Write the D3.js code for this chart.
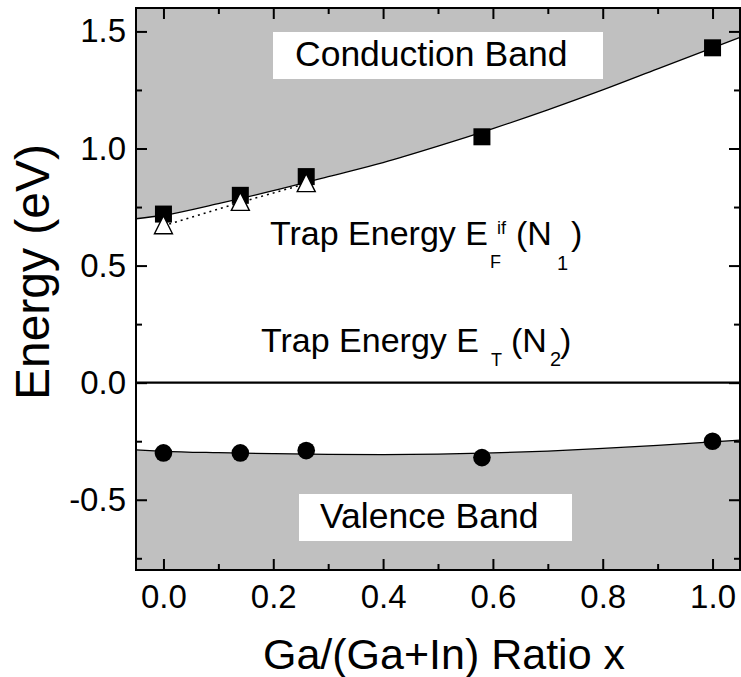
<!DOCTYPE html>
<html>
<head>
<meta charset="utf-8">
<script src="https://cdn.jsdelivr.net/npm/d3@7"></script>
<style>
  body { margin: 0; background: #fff; }
  svg { display: block; font-family: "Liberation Sans", Arial, sans-serif; }
</style>
</head>
<body>
<svg id="chart" width="741" height="677"></svg>
<script>
// measured points
var ratioX = [0, 0.14, 0.26, 0.58, 1.0];
var cbEnergy = [0.72, 0.80, 0.88, 1.05, 1.43];
var vbEnergy = [-0.30, -0.30, -0.29, -0.32, -0.25];
var trapX = [0, 0.14, 0.26];
var trapEnergy = [0.67, 0.77, 0.85];

// fitted band edges
var cbFitX = [-0.05, 0, 0.1, 0.2, 0.3, 0.4, 0.5, 0.6, 0.7, 0.8, 0.9, 1.0, 1.05];
var cbFitY = [0.70, 0.715, 0.765, 0.82, 0.88, 0.94, 1.01, 1.085, 1.165, 1.25, 1.34, 1.43, 1.475];
var vbFitX = [-0.05, 0, 0.1, 0.2, 0.3, 0.4, 0.5, 0.6, 0.7, 0.8, 0.9, 1.0, 1.05];
var vbFitY = [-0.287, -0.293, -0.299, -0.303, -0.306, -0.307, -0.305, -0.300, -0.292, -0.281, -0.268, -0.253, -0.245];

var xTicks = [0, 0.2, 0.4, 0.6, 0.8, 1.0];
var xMinor = [0.1, 0.3, 0.5, 0.7, 0.9];
var yTicks = [-0.5, 0, 0.5, 1.0, 1.5];
var yMinor = [-0.75, -0.25, 0.25, 0.75, 1.25];

// plot frame (note: "top" is taken by window.top)
var padL = 136, padR = 740, padT = 8, padB = 570;
var grey = "#c0c0c0";

var svg = d3.select("#chart");
var x = d3.scaleLinear().domain([-0.05, 1.05]).range([padL, padR]);
var y = d3.scaleLinear().domain([-0.8, 1.6]).range([padB, padT]);

var cbFit = cbFitX.map(function(d, i){ return [d, cbFitY[i]]; });
var vbFit = vbFitX.map(function(d, i){ return [d, vbFitY[i]]; });

//shaded bands
svg.append("path")
  .datum(cbFit)
  .attr("fill", grey)
  .attr("d", d3.area().x(function(d){return x(d[0]);}).y0(y(1.6)).y1(function(d){return y(d[1]);}).curve(d3.curveMonotoneX));
svg.append("path")
  .datum(vbFit)
  .attr("fill", grey)
  .attr("d", d3.area().x(function(d){return x(d[0]);}).y0(y(-0.8)).y1(function(d){return y(d[1]);}).curve(d3.curveMonotoneX));

var fitLine = d3.line().x(function(d){return x(d[0]);}).y(function(d){return y(d[1]);}).curve(d3.curveMonotoneX);
svg.append("path").datum(cbFit).attr("fill", "none").attr("stroke", "#000").attr("stroke-width", 1.3).attr("d", fitLine);
svg.append("path").datum(vbFit).attr("fill", "none").attr("stroke", "#000").attr("stroke-width", 1.3).attr("d", fitLine);

// zero line
svg.append("line")
  .attr("x1", x(-0.05)).attr("x2", x(1.05))
  .attr("y1", y(0)).attr("y2", y(0))
  .attr("stroke", "#000").attr("stroke-width", 2.2);

// dotted trap line
svg.append("path")
  .datum(trapX.map(function(d, i){ return [d, trapEnergy[i]]; }))
  .attr("fill", "none").attr("stroke", "#000").attr("stroke-width", 1.5)
  .attr("stroke-dasharray", "2,4")
  .attr("d", d3.line().x(function(d){return x(d[0]);}).y(function(d){return y(d[1]);}));

// markers
svg.selectAll(".sq").data(ratioX).enter().append("rect")
  .attr("x", function(d){ return x(d) - 8.5; })
  .attr("y", function(d, i){ return y(cbEnergy[i]) - 8.5; })
  .attr("width", 17).attr("height", 17).attr("fill", "#000");

svg.selectAll(".dot").data(ratioX).enter().append("circle")
  .attr("cx", function(d){ return x(d); })
  .attr("cy", function(d, i){ return y(vbEnergy[i]); })
  .attr("r", 8.8).attr("fill", "#000");

svg.selectAll(".tri").data(trapX).enter().append("path")
  .attr("transform", function(d, i){ return "translate(" + x(d) + "," + y(trapEnergy[i]) + ")"; })
  .attr("d", "M0,-10L9,8L-9,8Z")
  .attr("fill", "#fff").attr("stroke", "#000").attr("stroke-width", 1.4);

// band labels
function boxLabel(txt, bx, by, bw, bh, tx, ty, size) {
  svg.append("rect").attr("x", bx).attr("y", by).attr("width", bw).attr("height", bh).attr("fill", "#fff");
  svg.append("text").attr("x", tx).attr("y", ty).attr("font-size", size).text(txt);
}
boxLabel("Conduction Band", 273, 32, 330, 47, 295, 66, 35.5);
boxLabel("Valence Band", 299, 494, 273, 47, 320, 528, 35.5);

// trap labels, pieces placed by hand
function piece(txt, px, py, size) {
  svg.append("text").attr("x", px).attr("y", py).attr("font-size", size).text(txt);
}
piece("Trap Energy E", 270, 245, 34);
piece("if", 497, 234, 18);
piece("F", 490, 268, 18);
piece("(N", 516, 245, 34);
piece("1", 557, 270, 20);
piece(")", 571, 245, 34);

piece("Trap Energy E", 261, 352, 34);
piece("T", 491, 366, 18);
piece("(N", 511, 352, 34);
piece("2", 550, 366, 20);
piece(")", 560, 352, 34);

//axes with inward ticks; plain hyphen for negatives like the original
var fmt = function(d){ return d3.format(".1f")(d).replace("\u2212", "-"); };
svg.append("g").attr("transform", "translate(0," + padB + ")")
  .call(d3.axisBottom(x).tickValues(xTicks).tickSize(-11).tickPadding(15).tickFormat(fmt));
svg.append("g").attr("transform", "translate(0," + padB + ")")
  .call(d3.axisBottom(x).tickValues(xMinor).tickSize(-6).tickFormat(""));
svg.append("g").attr("transform", "translate(0," + padT + ")")
  .call(d3.axisTop(x).tickValues(xTicks).tickSize(-11).tickFormat(""));
svg.append("g").attr("transform", "translate(0," + padT + ")")
  .call(d3.axisTop(x).tickValues(xMinor).tickSize(-6).tickFormat(""));

svg.append("g").attr("transform", "translate(" + padL + ",0)")
  .call(d3.axisLeft(y).tickValues(yTicks).tickSize(-11).tickPadding(10).tickFormat(fmt));
svg.append("g").attr("transform", "translate(" + padL + ",0)")
  .call(d3.axisLeft(y).tickValues(yMinor).tickSize(-6).tickFormat(""));
svg.append("g").attr("transform", "translate(" + padR + ",0)")
  .call(d3.axisRight(y).tickValues(yTicks).tickSize(-11).tickFormat(""));
svg.append("g").attr("transform", "translate(" + padR + ",0)")
  .call(d3.axisRight(y).tickValues(yMinor).tickSize(-6).tickFormat(""));

svg.selectAll(".domain").remove();
svg.selectAll(".tick line").attr("stroke", "#000").attr("stroke-width", 2);
svg.selectAll(".tick text").attr("font-family", "Liberation Sans, Arial, sans-serif").attr("font-size", 33).attr("fill", "#000");

// frame
svg.append("rect")
  .attr("x", padL).attr("y", padT).attr("width", padR - padL).attr("height", padB - padT)
  .attr("fill", "none").attr("stroke", "#000").attr("stroke-width", 2);

// axis titles
svg.append("text")
  .attr("x", (padL + padR) / 2 + 6).attr("y", 669)
  .attr("text-anchor", "middle").attr("font-size", 43)
  .text("Ga/(Ga+In) Ratio x");
svg.append("text")
  .attr("transform", "translate(49," + 272 + ") rotate(-90)")
  .attr("text-anchor", "middle").attr("font-size", 48)
  .text("Energy (eV)");
</script>
</body>
</html>
